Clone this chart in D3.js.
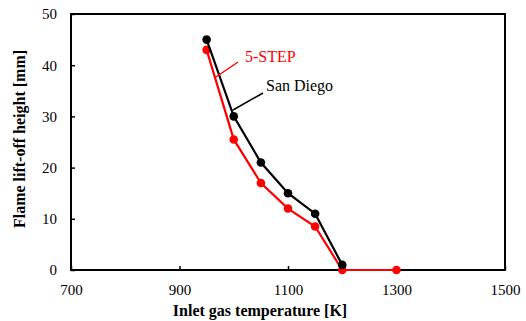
<!DOCTYPE html>
<html>
<head>
<script src="https://cdnjs.cloudflare.com/ajax/libs/d3/7.8.5/d3.min.js"></script>
<style>
  body { margin: 0; background: #fff; }
  svg text { font-family: "Liberation Serif", "Times New Roman", serif !important; }
</style>
</head>
<body>
<div id="vis"></div>
<script>
const sanDiegoT = [950, 1000, 1050, 1100, 1150, 1200];
const sanDiegoH = [45, 30, 21, 15, 11, 1];
const fiveStepT = [950, 1000, 1050, 1100, 1150, 1200, 1300];
const fiveStepH = [43, 25.5, 17, 12, 8.5, 0, 0];
const xTicks = [700, 900, 1100, 1300, 1500];
const yTicks = [0, 10, 20, 30, 40, 50];

const W = 526, H = 321;
const m = {left: 71, right: 21, top: 14, bottom: 51};

const svg = d3.select("#vis").append("svg")
    .attr("width", W).attr("height", H);

const x = d3.scaleLinear().domain([700, 1500]).range([m.left, W - m.right]);
const y = d3.scaleLinear().domain([0, 50]).range([H - m.bottom, m.top]);

// frame
svg.append("rect")
    .attr("x", x(700)).attr("y", y(50))
    .attr("width", x(1500) - x(700)).attr("height", y(0) - y(50))
    .attr("fill", "none").attr("stroke", "#000").attr("stroke-width", 2);

const xAxis = svg.append("g")
    .attr("transform", `translate(0,${y(0)})`)
    .call(d3.axisBottom(x).tickValues(xTicks).tickSize(-4).tickPadding(14).tickFormat(d3.format("d")));
const yAxis = svg.append("g")
    .attr("transform", `translate(${x(700)},0)`)
    .call(d3.axisLeft(y).tickValues(yTicks).tickSize(-4).tickPadding(14));

[xAxis, yAxis].forEach(g => {
  g.select(".domain").remove();
  g.selectAll("line").attr("stroke", "#000").attr("stroke-width", 1.5);
  g.selectAll("text").attr("font-size", 15).attr("fill", "#000");
});
xAxis.attr("font-size", 15);
yAxis.attr("font-size", 15);

svg.append("text")
    .attr("x", 260).attr("y", 316)
    .attr("text-anchor", "middle").attr("font-size", 16).attr("font-weight", "bold")
    .text("Inlet gas temperature [K]");
svg.append("text")
    .attr("transform", `translate(25,139) rotate(-90)`)
    .attr("text-anchor", "middle").attr("font-size", 16).attr("font-weight", "bold")
    .text("Flame lift-off height [mm]");

function series(ts, hs, color) {
  const pts = ts.map((t, i) => [t, hs[i]]);
  svg.append("path").datum(pts)
      .attr("fill", "none").attr("stroke", color).attr("stroke-width", 2.2)
      .attr("d", d3.line().x(d => x(d[0])).y(d => y(d[1])));
  svg.append("g").selectAll("circle").data(pts).join("circle")
      .attr("cx", d => x(d[0])).attr("cy", d => y(d[1])).attr("r", 4.3)
      .attr("fill", color);
}
series(fiveStepT, fiveStepH, "#ff0000");
series(sanDiegoT, sanDiegoH, "#000000");

// labels with leader lines
svg.append("line").attr("x1", 216).attr("y1", 77).attr("x2", 238).attr("y2", 62)
    .attr("stroke", "#ff0000").attr("stroke-width", 1.5);
svg.append("text").attr("x", 245).attr("y", 62).attr("font-size", 16)
    .attr("fill", "#ff0000").text("5-STEP");
svg.append("line").attr("x1", 233).attr("y1", 110).attr("x2", 263).attr("y2", 93)
    .attr("stroke", "#000").attr("stroke-width", 1.5);
svg.append("text").attr("x", 266).attr("y", 91).attr("font-size", 16)
    .attr("fill", "#000").text("San Diego");
</script>
</body>
</html>
